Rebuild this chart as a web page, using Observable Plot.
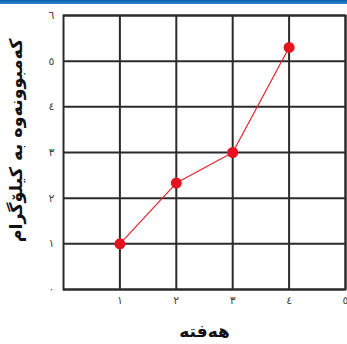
<!DOCTYPE html>
<html>
<head>
<meta charset="utf-8">
<script src="https://cdn.jsdelivr.net/npm/d3@7"></script>
<script src="https://cdn.jsdelivr.net/npm/@observablehq/plot@0.6"></script>
<style>
  html, body { margin: 0; padding: 0; background: #fff; }
  #bar { height: 4px; background: linear-gradient(#0f5fae, #2a86d4); }
  svg { display: block; }
</style>
</head>
<body>
<div id="bar"></div>
<div id="chart"></div>
<script>
const weeks = [1, 2, 3, 4];
const lossKg = [1, 2.33, 3, 5.3];
const xTicks = [1, 2, 3, 4, 5];
const yTicks = [0, 1, 2, 3, 4, 5, 6];
const digits = ["٠", "١", "٢", "٣", "٤", "٥", "٦"];
const xTitle = "هەفتە";
const yTitle = "کەمبوونەوە بە کیلۆگرام";

const data = weeks.map((w, i) => ({week: w, loss: lossKg[i]}));
const fmt = d => digits[d];
const gridColor = "#2b2b2b";
const font = "DejaVu Sans, sans-serif";

const chart = Plot.plot({
  width: 347,
  height: 340,
  marginLeft: 63,
  marginRight: 2,
  marginTop: 11,
  marginBottom: 55,
  style: {fontFamily: font, background: "transparent"},
  x: {domain: [0, 5]},
  y: {domain: [0, 6]},
  marks: [
    Plot.gridX(xTicks, {stroke: gridColor, strokeOpacity: 1, strokeWidth: 2}),
    Plot.gridY(yTicks, {stroke: gridColor, strokeOpacity: 1, strokeWidth: 2}),
    Plot.frame({stroke: gridColor, strokeWidth: 2}),
    Plot.axisX(xTicks, {tickSize: 0, tickPadding: 7, tickFormat: fmt, fontSize: 11, fill: "#444", label: null}),
    Plot.axisY(yTicks, {tickSize: 0, tickPadding: 9, tickFormat: fmt, fontSize: 11, fill: "#444", label: null}),
    Plot.line(data, {x: "week", y: "loss", stroke: "#e0242c", strokeWidth: 1.2}),
    Plot.dot(data, {x: "week", y: "loss", r: 5.5, fill: "#e3141f", stroke: "none"}),
    Plot.text([yTitle], {frameAnchor: "left", dx: -47, dy: -12, rotate: -90, text: d => d, fontSize: 17.5, fontWeight: "bold", fill: "#111", textAnchor: "middle"}),
    Plot.text([xTitle], {frameAnchor: "bottom", dy: 47, text: d => d, fontSize: 17, fontWeight: "bold", fill: "#111"})
  ]
});
document.getElementById("chart").appendChild(chart);
</script>
</body>
</html>
